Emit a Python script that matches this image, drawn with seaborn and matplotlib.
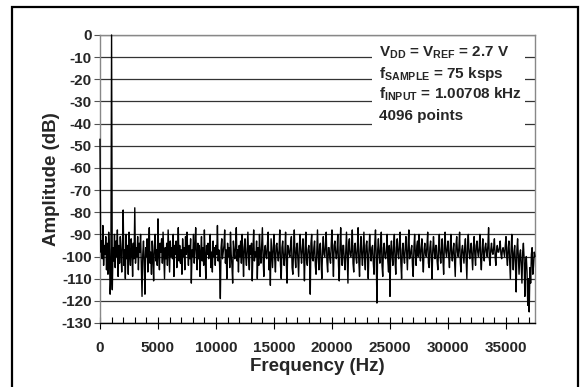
import numpy as np
import pandas as pd
import matplotlib
matplotlib.use("Agg")
import matplotlib.pyplot as plt
from matplotlib.patches import Rectangle
import seaborn as sns

# FFT spectrum, one value every 62.5 Hz (0 .. 37500 Hz)
bin_step = 62.5
amplitude_db = [
    # 0 - 2437.5 Hz (DC, fundamental at 1 kHz, 2nd harmonic at 2 kHz)
    -47, -98, -93, -101, -86, -104, -95, -99, -91, -106,
    -94, -108, -89, -97, -117, -110, 0, -115, -96, -102,
    -90, -105, -93, -100, -88, -109, -95, -103, -91, -98,
    -107, -94, -79, -104, -97, -110, -90, -101, -95, -108,
    # 2500 - 4937.5 Hz (3rd harmonic at 3 kHz)
    -89, -99, -104, -92, -97, -109, -94, -101, -78, -103,
    -96, -100, -91, -106, -94, -98, -90, -105, -118, -99,
    -93, -102, -117, -96, -100, -92, -107, -95, -87, -103,
    -98, -108, -93, -100, -111, -95, -90, -102, -97, -104,
    # 5000 - 7437.5 Hz
    -83, -100, -106, -94, -98, -92, -103, -89, -99, -110,
    -96, -101, -94, -104, -88, -97, -107, -93, -100, -96,
    -101, -90, -109, -95, -99, -93, -105, -98, -87, -102,
    -95, -103, -97, -108, -92, -100, -96, -106, -91, -99,
    # 7500 - 9937.5 Hz
    -89, -98, -104, -95, -101, -92, -112, -97, -100, -90,
    -103, -96, -87, -99, -106, -94, -101, -95, -109, -98,
    -91, -102, -96, -104, -88, -100, -110, -95, -99, -94,
    -101, -97, -90, -105, -98, -107, -93, -100, -96, -104,
    # 10000 - 12437.5 Hz
    -95, -99, -86, -102, -97, -104, -119, -96, -92, -101,
    -98, -95, -88, -103, -97, -110, -94, -100, -96, -105,
    -89, -99, -104, -112, -93, -98, -101, -95, -87, -102,
    -97, -107, -95, -100, -93, -103, -90, -98, -109, -96,
    # 12500 - 14937.5 Hz
    -92, -100, -104, -96, -89, -101, -106, -95, -99, -94,
    -111, -97, -88, -102, -98, -100, -93, -110, -96, -104,
    -90, -99, -103, -95, -87, -101, -109, -97, -95, -100,
    -101, -94, -89, -106, -98, -113, -92, -99, -105, -96,
    # 15000 - 17437.5 Hz
    -90, -101, -107, -95, -94, -99, -102, -97, -88, -104,
    -110, -96, -93, -100, -104, -98, -89, -103, -112, -95,
    -96, -99, -100, -94, -91, -105, -108, -97, -88, -100,
    -105, -96, -94, -102, -109, -95, -90, -98, -103, -97,
    # 17500 - 19937.5 Hz
    -92, -100, -111, -96, -89, -102, -104, -97, -95, -99,
    -117, -94, -90, -101, -102, -96, -93, -104, -108, -98,
    -88, -100, -106, -95, -94, -103, -110, -97, -91, -99,
    -100, -95, -89, -102, -107, -96, -96, -101, -103, -94,
    # 20000 - 22437.5 Hz
    -88, -100, -109, -95, -93, -98, -101, -97, -90, -104,
    -111, -96, -87, -99, -104, -95, -95, -102, -106, -98,
    -89, -101, -112, -94, -92, -99, -100, -97, -88, -103,
    -107, -95, -94, -100, -103, -96, -87, -102, -109, -97,
    # 22500 - 24937.5 Hz
    -91, -99, -104, -96, -89, -101, -106, -95, -93, -100,
    -110, -97, -90, -98, -102, -96, -95, -103, -108, -94,
    -88, -100, -121, -97, -92, -99, -103, -95, -89, -104,
    -109, -96, -94, -100, -101, -97, -90, -102, -107, -95,
    # 25000 - 27437.5 Hz
    -118, -97, -93, -100, -104, -95, -90, -102, -108, -96,
    -92, -99, -101, -94, -89, -103, -110, -97, -94, -100,
    -103, -96, -91, -98, -106, -95, -88, -101, -100, -97,
    -95, -104, -109, -96, -90, -99, -104, -95, -93, -100,
    # 27500 - 29937.5 Hz
    -90, -98, -102, -96, -92, -101, -107, -97, -94, -99,
    -100, -95, -89, -103, -105, -96, -93, -100, -110, -97,
    -91, -98, -101, -95, -95, -102, -106, -96, -90, -99,
    -103, -97, -92, -101, -108, -95, -89, -98, -100, -96,
    # 30000 - 32437.5 Hz
    -93, -100, -105, -96, -90, -99, -102, -97, -94, -101,
    -109, -95, -91, -98, -100, -96, -89, -103, -107, -97,
    -95, -99, -103, -96, -92, -101, -110, -95, -90, -98,
    -101, -97, -94, -100, -106, -96, -91, -99, -104, -95,
    # 32500 - 34937.5 Hz
    -93, -98, -100, -96, -90, -101, -106, -97, -92, -99,
    -102, -96, -94, -98, -100, -95, -87, -101, -104, -97,
    -94, -98, -99, -96, -92, -100, -104, -97, -95, -98,
    -98, -96, -93, -99, -101, -97, -96, -98, -100, -95,
    # 35000 - 37437.5 Hz
    -91, -100, -104, -96, -93, -101, -110, -97, -90, -99,
    -106, -98, -95, -103, -116, -97, -92, -100, -108, -99,
    -97, -104, -112, -98, -94, -101, -118, -103, -100, -107,
    -122, -110, -125, -105, -112, -99, -96, -108, -104, -98,
    # 37500 Hz
    -100,
]
assert len(amplitude_db) == 601
frequency_hz = np.arange(len(amplitude_db)) * bin_step

y_ticks = list(range(-130, 1, 10))
x_ticks = list(range(0, 35001, 5000))
notes = [
    r"V$_{\rm DD}$ = V$_{\rm REF}$ = 2.7 V",
    r"f$_{\rm SAMPLE}$ = 75 ksps",
    r"f$_{\rm INPUT}$ = 1.00708 kHz",
    "4096 points",
]

df = pd.DataFrame({"Frequency (Hz)": frequency_hz, "Amplitude (dB)": amplitude_db})

sns.set_theme(style="white")
plt.rcParams["font.family"] = ["Liberation Sans", "DejaVu Sans"]
plt.rcParams["font.weight"] = "bold"
plt.rcParams["axes.unicode_minus"] = False
plt.rcParams["mathtext.fontset"] = "custom"
plt.rcParams["mathtext.rm"] = "Liberation Sans:bold"
plt.rcParams["mathtext.it"] = "Liberation Sans:bold"
plt.rcParams["mathtext.bf"] = "Liberation Sans:bold"

fig, ax = plt.subplots(figsize=(5.84, 3.87), dpi=100)
fig.subplots_adjust(left=0.1712, right=0.9161, top=0.9096, bottom=0.1654)

sns.lineplot(data=df, x="Frequency (Hz)", y="Amplitude (dB)", ax=ax,
             color="black", linewidth=1.0, zorder=3, clip_on=False)

ax.set_xlim(0, 37500)
ax.set_ylim(-130, 0)
ax.set_yticks(y_ticks)
ax.set_xticks(x_ticks)
ax.set_xticks(range(0, 37501, 1000), minor=True)
ax.tick_params(axis="y", which="major", left=True, direction="out", length=4, width=0.8,
               color="#555555", labelsize=11, pad=2)
ax.tick_params(axis="x", which="major", bottom=True, direction="inout", length=8, width=0.8,
               color="black", labelsize=11, pad=9)
ax.tick_params(axis="x", which="minor", bottom=True, direction="in", length=4, width=0.8,
               color="black")
ax.set_xlabel("Frequency (Hz)", fontsize=13.5, fontweight="bold", labelpad=2)
ax.set_ylabel("Amplitude (dB)", fontsize=13.5, fontweight="bold", labelpad=1)

ax.yaxis.grid(True, color="#333333", linewidth=0.9, zorder=0.5)
ax.set_axisbelow(True)
for side in ["left", "right", "top"]:
    ax.spines[side].set_color("#888888")
    ax.spines[side].set_linewidth(1.0)
ax.spines["bottom"].set_color("black")
ax.spines["bottom"].set_linewidth(1.0)

# white label box that interrupts the grid lines
ax.add_patch(Rectangle((0.626, 0.653), 0.351, 0.312, transform=ax.transAxes,
                       facecolor="white", edgecolor="none", zorder=1))
for i, line in enumerate(notes):
    ax.text(0.642, 0.924 - i * 0.073, line, transform=ax.transAxes,
            fontsize=11, fontweight="bold", va="baseline", ha="left", zorder=4)

# outer frame of the figure
fig.patches.append(Rectangle((12 / 584, -0.02), 566 / 584, 1.02 - 7 / 387,
                             transform=fig.transFigure, fill=False,
                             edgecolor="black", linewidth=1.6))

fig.savefig("out.png", dpi=100)
